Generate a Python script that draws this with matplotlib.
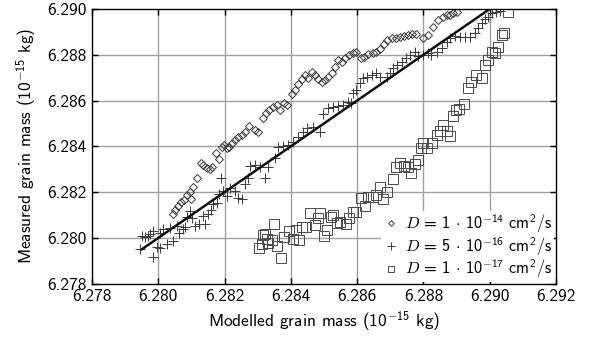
import matplotlib
matplotlib.use("Agg")
import matplotlib.pyplot as plt
import numpy as np
from matplotlib.ticker import FormatStrFormatter

plt.rcParams['font.family'] = 'cmss10'
plt.rcParams['mathtext.fontset'] = 'custom'
plt.rcParams['mathtext.rm'] = 'cmss10'
plt.rcParams['mathtext.sf'] = 'cmss10'
plt.rcParams['mathtext.it'] = 'cmmi10'
plt.rcParams['mathtext.bf'] = 'cmss10'
plt.rcParams['axes.unicode_minus'] = False

# D = 1e-14 cm^2/s (diamonds)
x_d14 = [6.28045, 6.28050, 6.28060, 6.28068, 6.28078, 6.28086, 6.28099, 6.28096, 6.28106, 6.28116,
         6.28129, 6.28136, 6.28146, 6.28156, 6.28163, 6.28173, 6.28184, 6.28191, 6.28199, 6.28206,
         6.28214, 6.28221, 6.28231, 6.28241, 6.28252, 6.28262, 6.28275, 6.28292, 6.28302, 6.28315,
         6.28325, 6.28335, 6.28347, 6.28357, 6.28367, 6.28379, 6.28389, 6.28402, 6.28412, 6.28422,
         6.28433, 6.28443, 6.28453, 6.28463, 6.28473, 6.28483, 6.28493, 6.28503, 6.28513, 6.28523,
         6.28533, 6.28543, 6.28553, 6.28563, 6.28576, 6.28588, 6.28598, 6.28611, 6.28621, 6.28633,
         6.28647, 6.28657, 6.28669, 6.28681, 6.28691, 6.28704, 6.28717, 6.28729, 6.28741, 6.28754,
         6.28767, 6.28779, 6.28799, 6.28814, 6.28830, 6.28845, 6.28860, 6.28870, 6.28880, 6.28890,
         6.28900]
y_d14 = [6.28103, 6.28122, 6.28138, 6.28155, 6.28166, 6.28188, 6.28170, 6.28202, 6.28221, 6.28260,
         6.28326, 6.28318, 6.28304, 6.28300, 6.28311, 6.28370, 6.28344, 6.28396, 6.28406, 6.28391,
         6.28398, 6.28413, 6.28428, 6.28440, 6.28450, 6.28464, 6.28489, 6.28471, 6.28464, 6.28522,
         6.28547, 6.28559, 6.28573, 6.28581, 6.28559, 6.28591, 6.28581, 6.28629, 6.28648, 6.28672,
         6.28696, 6.28712, 6.28697, 6.28726, 6.28712, 6.28694, 6.28680, 6.28690, 6.28704, 6.28719,
         6.28748, 6.28777, 6.28767, 6.28785, 6.28799, 6.28806, 6.28813, 6.28785, 6.28792, 6.28802,
         6.28806, 6.28811, 6.28825, 6.28846, 6.28865, 6.28872, 6.28875, 6.28879, 6.28883, 6.28886,
         6.28889, 6.28891, 6.28872, 6.28886, 6.28923, 6.28952, 6.28966, 6.28974, 6.28974, 6.28981,
         6.28988]

# D = 5e-16 cm^2/s (plus)
x_d16 = [6.27945, 6.27950, 6.27960, 6.27970, 6.27975, 6.27985, 6.27985, 6.27995, 6.28005, 6.28005,
         6.28015, 6.28025, 6.28035, 6.28045, 6.28055, 6.28063, 6.28074, 6.28081, 6.28087, 6.28096,
         6.28101, 6.28111, 6.28124, 6.28134, 6.28141, 6.28151, 6.28158, 6.28166, 6.28176, 6.28184,
         6.28188, 6.28194, 6.28206, 6.28216, 6.28231, 6.28241, 6.28252, 6.28262, 6.28272, 6.28277,
         6.28292, 6.28307, 6.28322, 6.28332, 6.28352, 6.28362, 6.28377, 6.28392, 6.28407, 6.28422,
         6.28437, 6.28448, 6.28468, 6.28488, 6.28498, 6.28513, 6.28528, 6.28543, 6.28558, 6.28573,
         6.28583, 6.28588, 6.28598, 6.28608, 6.28618, 6.28630, 6.28644, 6.28657, 6.28669, 6.28689,
         6.28699, 6.28709, 6.28719, 6.28734, 6.28747, 6.28759, 6.28774, 6.28784, 6.28799, 6.28814,
         6.28824, 6.28840, 6.28855, 6.28870, 6.28880, 6.28895, 6.28910, 6.28925, 6.28940, 6.28955,
         6.28965, 6.28976, 6.28986, 6.28995, 6.29006, 6.29019, 6.29031]
y_d16 = [6.27951, 6.28008, 6.28002, 6.28008, 6.28017, 6.28028, 6.27917, 6.27960, 6.27957, 6.28020,
         6.28037, 6.27973, 6.28043, 6.27986, 6.28052, 6.28023, 6.28037, 6.28048, 6.28091, 6.28118,
         6.28088, 6.28052, 6.28059, 6.28096, 6.28062, 6.28103, 6.28121, 6.28147, 6.28154, 6.28191,
         6.28260, 6.28205, 6.28183, 6.28219, 6.28205, 6.28176, 6.28169, 6.28237, 6.28263, 6.28314,
         6.28318, 6.28311, 6.28263, 6.28311, 6.28348, 6.28398, 6.28401, 6.28406, 6.28420, 6.28442,
         6.28464, 6.28479, 6.28486, 6.28464, 6.28541, 6.28566, 6.28573, 6.28578, 6.28581, 6.28595,
         6.28588, 6.28632, 6.28646, 6.28675, 6.28697, 6.28704, 6.28712, 6.28719, 6.28704, 6.28704,
         6.28719, 6.28741, 6.28755, 6.28770, 6.28785, 6.28799, 6.28813, 6.28795, 6.28799, 6.28806,
         6.28799, 6.28813, 6.28831, 6.28857, 6.28875, 6.28883, 6.28879, 6.28879, 6.28879, 6.28894,
         6.28916, 6.28938, 6.28956, 6.28966, 6.28981, 6.28986, 6.28991]

# D = 1e-17 cm^2/s (squares)
x_d17 = [6.28305, 6.28312, 6.28317, 6.28322, 6.28327, 6.28332, 6.28342, 6.28349, 6.28359, 6.28369,
         6.28379, 6.28395, 6.28407, 6.28415, 6.28425, 6.28433, 6.28446, 6.28459, 6.28473, 6.28483,
         6.28489, 6.28500, 6.28510, 6.28520, 6.28528, 6.28538, 6.28548, 6.28565, 6.28576, 6.28588,
         6.28596, 6.28611, 6.28624, 6.28634, 6.28647, 6.28658, 6.28669, 6.28679, 6.28690, 6.28707,
         6.28717, 6.28729, 6.28741, 6.28754, 6.28764, 6.28774, 6.28784, 6.28794, 6.28799, 6.28810,
         6.28825, 6.28840, 6.28850, 6.28860, 6.28872, 6.28880, 6.28888, 6.28898, 6.28908, 6.28922,
         6.28935, 6.28945, 6.28960, 6.28976, 6.28986, 6.28995, 6.29006, 6.29016, 6.29026, 6.29036,
         6.29043, 6.29055]
y_d17 = [6.27958, 6.27972, 6.28013, 6.28016, 6.27994, 6.27976, 6.27991, 6.28059, 6.27964, 6.27913,
         6.28003, 6.28031, 6.27994, 6.28036, 6.27991, 6.28048, 6.28049, 6.28107, 6.28056, 6.28086,
         6.28110, 6.28008, 6.28035, 6.28090, 6.28098, 6.28064, 6.28069, 6.28061, 6.28086, 6.28114,
         6.28114, 6.28173, 6.28139, 6.28177, 6.28180, 6.28187, 6.28222, 6.28168, 6.28201, 6.28256,
         6.28311, 6.28326, 6.28314, 6.28309, 6.28285, 6.28323, 6.28340, 6.28391, 6.28416, 6.28391,
         6.28413, 6.28450, 6.28468, 6.28493, 6.28468, 6.28445, 6.28533, 6.28559, 6.28562, 6.28585,
         6.28655, 6.28682, 6.28712, 6.28697, 6.28755, 6.28777, 6.28813, 6.28806, 6.28835, 6.28886,
         6.28894, 6.28986]

# ideal line: measured == modelled
line_x = [6.2795, 6.2900]
line_y = [6.2795, 6.2900]

xticks = [6.278, 6.280, 6.282, 6.284, 6.286, 6.288, 6.290, 6.292]
yticks = [6.278, 6.280, 6.282, 6.284, 6.286, 6.288, 6.290]

labels = [r'$D\,=\,1\,\cdot\,10^{-14}\ \mathrm{cm}^2/\mathrm{s}$',
          r'$D\,=\,5\,\cdot\,10^{-16}\ \mathrm{cm}^2/\mathrm{s}$',
          r'$D\,=\,1\,\cdot\,10^{-17}\ \mathrm{cm}^2/\mathrm{s}$']

fig = plt.figure(figsize=(6.03, 3.42), dpi=100)
ax = fig.add_axes([0.1526, 0.1705, 0.7694, 0.8032])

# grid drawn by hand so it sits below the legend while ticks stay on top
for xv in xticks[1:-1]:
    ax.axvline(xv, color='#a0a0a0', lw=1.0, zorder=0)
for yv in yticks[1:-1]:
    ax.axhline(yv, color='#a0a0a0', lw=1.0, zorder=0)

ax.plot(x_d14, y_d14, linestyle='none', marker='D', markersize=4.2, mfc='none',
        mec='#3a3a3a', mew=0.7, label=labels[0], zorder=2)
ax.plot(x_d16, y_d16, linestyle='none', marker='+', markersize=7.5,
        mec='#3a3a3a', mew=0.7, label=labels[1], zorder=2)
ax.plot(x_d17, y_d17, linestyle='none', marker='s', markersize=6.5, mfc='none',
        mec='#4a4a4a', mew=0.7, label=labels[2], zorder=2)
ax.plot(line_x, line_y, color='#111111', lw=1.8, zorder=3)

ax.set_xlim(6.278, 6.292)
ax.set_ylim(6.278, 6.290)
ax.set_xticks(xticks)
ax.set_yticks(yticks)
ax.xaxis.set_major_formatter(FormatStrFormatter('%.3f'))
ax.yaxis.set_major_formatter(FormatStrFormatter('%.3f'))
ax.tick_params(direction='in', length=4, width=1, top=True, right=True,
               labelsize=12.5, pad=4)
for sp in ax.spines.values():
    sp.set_linewidth(1.0)

ax.set_xlabel(r'Modelled grain mass ($10^{-15}$ kg)', fontsize=12.5, labelpad=4)
ax.set_ylabel(r'Measured grain mass ($10^{-15}$ kg)', fontsize=12.5, labelpad=6)

leg = ax.legend(loc='lower right', fontsize=11.8, frameon=True, framealpha=1,
                edgecolor='none', facecolor='white', handlelength=1.0,
                handletextpad=0.4, labelspacing=0.0, borderpad=0.1,
                borderaxespad=0.1, fancybox=False, markerscale=0.7)
leg.set_zorder(2.4)

fig.savefig('out.png', dpi=100)
